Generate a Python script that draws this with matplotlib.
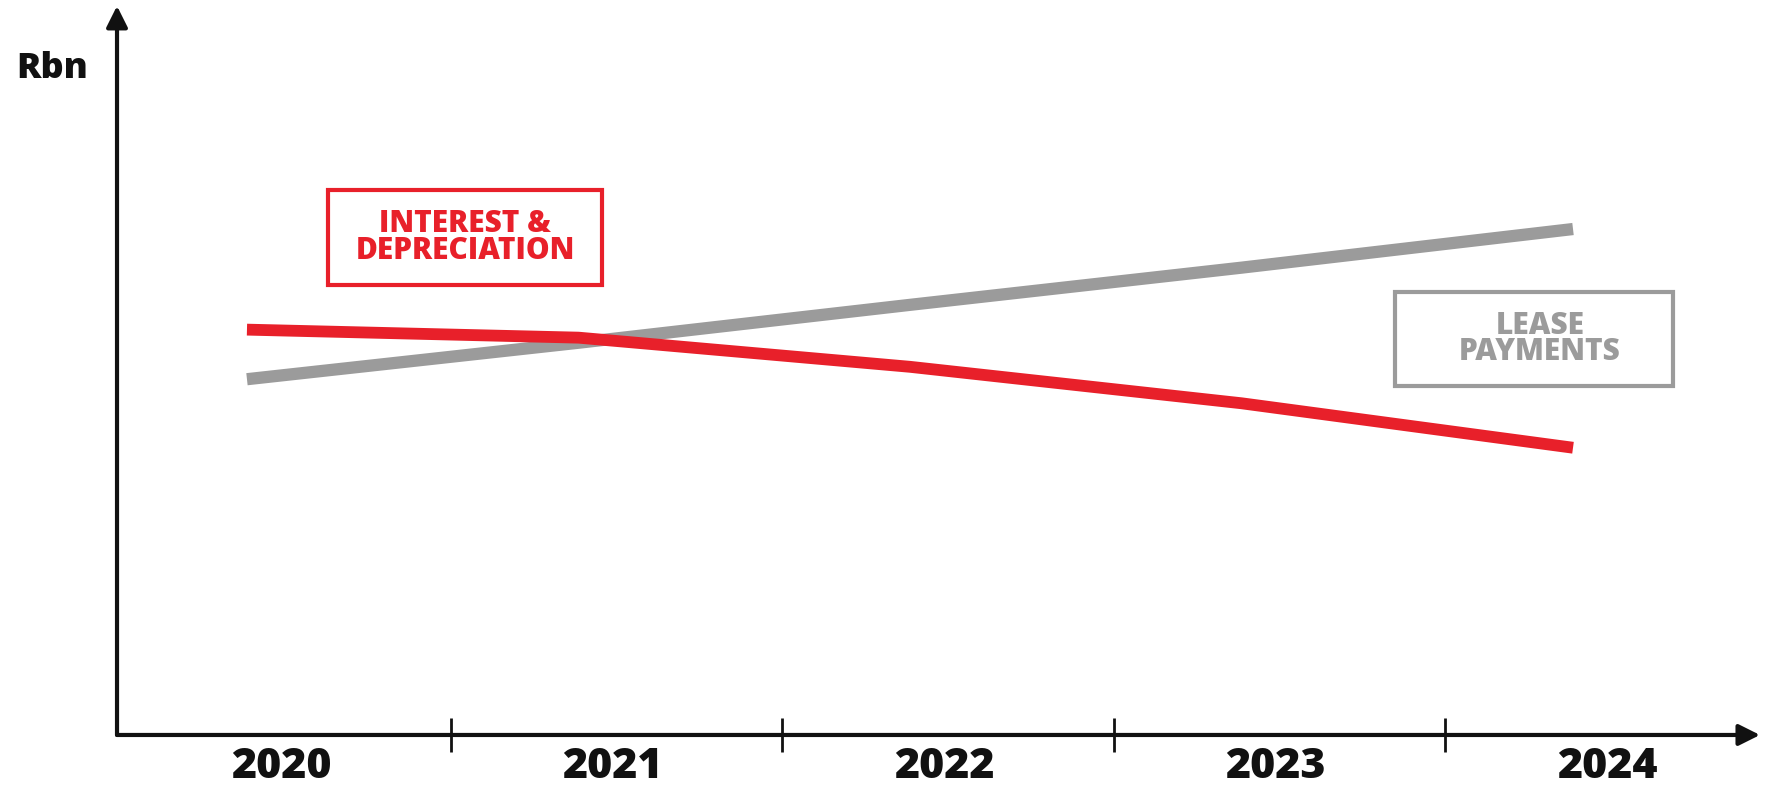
import matplotlib
matplotlib.use("Agg")
import matplotlib.pyplot as plt
from matplotlib.patches import Rectangle

# data (arbitrary Rbn units)
years = [2020, 2021, 2022, 2023, 2024]
interest_depr = [55.6, 54.5, 50.5, 45.5, 39.4]
lease_payments = [48.8, 53.8, 59.0, 64.1, 69.4]
year_labels = ["2020", "2021", "2022", "2023", "2024"]

RED = "#E8202A"
GREY = "#9B9B9B"
BLACK = "#111111"

plt.rcParams['font.family'] = ['Open Sans', 'DejaVu Sans']

fig = plt.figure(figsize=(17.81, 7.92), dpi=100)
ax = fig.add_axes([0.0657, 0.072, 0.9225, 0.9205])

ax.plot(years, lease_payments, color=GREY, lw=8.8, solid_capstyle='butt', zorder=2)
ax.plot(years, interest_depr, color=RED, lw=8.5, solid_capstyle='butt', zorder=3)

ax.set_xlim(2019.608, 2024.564)
ax.set_ylim(0, 100)

# axes drawn as arrows
for s in ax.spines.values():
    s.set_visible(False)
ax.annotate('', xy=(1.0, 0), xytext=(0, 0), xycoords='axes fraction',
            arrowprops=dict(arrowstyle='-|>', lw=3, color=BLACK, mutation_scale=32,
                            shrinkA=0, shrinkB=0))
ax.annotate('', xy=(0, 1.0), xytext=(0, 0), xycoords='axes fraction',
            arrowprops=dict(arrowstyle='-|>', lw=3, color=BLACK, mutation_scale=32,
                            shrinkA=0, shrinkB=0))

# tick marks between the years, labels a bit right of the data points
ax.set_xticks([y + 0.615 for y in years[:-1]])
ax.set_xticklabels([])
ax.tick_params(axis='x', direction='inout', length=24, width=2, color=BLACK)
ax.set_yticks([])
for y, lab in zip(years, year_labels):
    ax.text(y + 0.103, -0.059, lab, transform=ax.get_xaxis_transform(),
            ha='center', va='baseline', fontsize=31, fontweight='heavy', color=BLACK)

fig.text(0.029, 0.935, "Rbn", ha='center', va='top', fontsize=26,
         fontweight='heavy', color=BLACK)

# label boxes
ax.add_patch(Rectangle((0.1284, 0.6173), 0.1668, 0.1303, transform=ax.transAxes,
                       fill=False, ec=RED, lw=3, zorder=4))
ax.text(0.2118, 0.6824, "INTEREST &\nDEPRECIATION", transform=ax.transAxes,
        ha='center', va='center', fontsize=21.5, fontweight='heavy', color=RED,
        linespacing=0.85)
ax.add_patch(Rectangle((0.7778, 0.4787), 0.1692, 0.1290, transform=ax.transAxes,
                       fill=False, ec=GREY, lw=3, zorder=4))
ax.text(0.8660, 0.5432, "LEASE\nPAYMENTS", transform=ax.transAxes,
        ha='center', va='center', fontsize=21.5, fontweight='heavy', color=GREY,
        linespacing=0.85)

fig.savefig("out.png", dpi=100)
